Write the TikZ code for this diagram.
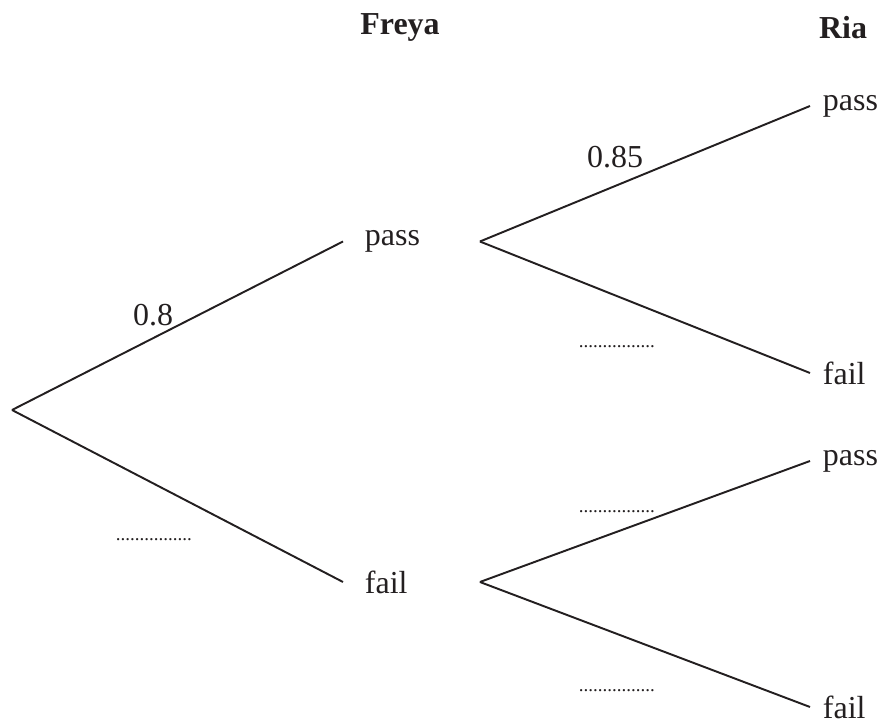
\documentclass[tikz,border=0pt]{standalone}
\usepackage{fontspec}
\setmainfont{Liberation Serif}
\usetikzlibrary{positioning}
\definecolor{ink}{RGB}{35,31,32}

\begin{document}
\begin{tikzpicture}[line width=1.1pt, color=ink,
  every node/.style={font=\fontsize{18.2}{22}\selectfont},
  freya/.style={anchor=west, inner xsep=0.42cm, text width=1.86cm, align=left},
  ria/.style={anchor=west, inner xsep=0.24cm},
  prob/.style={inner sep=0pt},
  blank/.style={anchor=base west, inner sep=0pt, font=\fontsize{10.8}{12}\selectfont},
  head/.style={font=\fontsize{18.2}{22}\selectfont\bfseries}]
  \useasboundingbox (0,0) rectangle (17.58,14.46);
  % headings
  \node[head] (freyahead) at (8.0,13.92)  {Freya};
  \node[head] (riahead)   at (16.86,13.9) {Ria};
  % Freya
  \coordinate (start) at (0.24,6.26);
  \node[freya] (fpass) at (6.86,9.63) {pass};
  \node[freya] (ffail) at (6.86,2.82) {fail};
  % Ria
  \node[ria] (pp) at (16.2,12.34) {pass};
  \node[ria] (pf) at (16.2,7.0)   {fail};
  \node[ria] (fp) at (16.2,5.24)  {pass};
  \node[ria] (ff) at (16.2,0.32)  {fail};
  % probabilities and blanks
  \node[prob]  (p08)  at (3.06,8.16)  {0.8};
  \node[prob]  (p085) at (12.3,11.32) {0.85};
  \node[blank] (b1) at (2.3,3.64)   {................};
  \node[blank] (b2) at (11.56,7.5)  {................};
  \node[blank] (b3) at (11.56,4.2)  {................};
  \node[blank] (b4) at (11.56,0.64) {................};
  % branches
  \draw (start) -- (fpass.west);
  \draw (start) -- (ffail.west);
  \draw (fpass.east) -- (pp.west);
  \draw (fpass.east) -- (pf.west);
  \draw (ffail.east) -- (fp.west);
  \draw (ffail.east) -- (ff.west);
\end{tikzpicture}
\end{document}
